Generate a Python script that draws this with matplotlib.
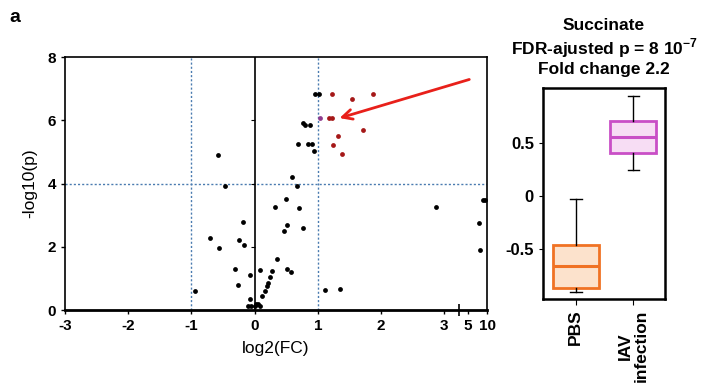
import numpy as np
import matplotlib
matplotlib.use("Agg")
import matplotlib.pyplot as plt

plt.rcParams['font.family'] = ['Liberation Sans', 'DejaVu Sans']
plt.rcParams['mathtext.fontset'] = 'custom'
plt.rcParams['mathtext.rm'] = 'Liberation Sans'
plt.rcParams['mathtext.bf'] = 'Liberation Sans:bold'

# ---- Volcano data ----
black_x = [-0.58, -0.47, 0.60, 0.67, 0.50, 0.33, 0.70, -0.18, 0.52, 0.76, 0.46,
           -0.70, -0.24, -0.16, -0.56, 0.35, -0.31, 0.09, 0.51, 0.57, -0.07,
           0.27, 0.25, 0.22, 0.19, 0.16, 0.11, -0.26, -0.95, 1.12, 1.35, -0.08,
           -0.10, -0.05, 0.02, 0.05, 0.08, 0.00,
           0.76, 0.80, 0.88, 0.69, 0.84, 0.91, 0.94, 0.95, 1.02,
           2.87, 8.9, 9.4, 7.9, 8.2]
black_y = [4.90, 3.92, 4.20, 3.92, 3.52, 3.27, 3.22, 2.78, 2.68, 2.61, 2.49,
           2.27, 2.23, 2.07, 1.95, 1.63, 1.31, 1.27, 1.31, 1.19, 1.10,
           1.23, 1.05, 0.87, 0.77, 0.61, 0.45, 0.80, 0.61, 0.63, 0.67, 0.35,
           0.13, 0.13, 0.18, 0.20, 0.12, 0.14,
           5.93, 5.86, 5.86, 5.25, 5.25, 5.25, 5.03, 6.84, 6.84,
           3.25, 3.47, 3.47, 2.74, 1.90]
red_x = [1.23, 1.54, 1.17, 1.22, 1.32, 1.24, 1.38, 1.87, 1.71]
red_y = [6.84, 6.68, 6.06, 6.06, 5.51, 5.22, 4.93, 6.84, 5.71]
succ_x = [1.03]
succ_y = [6.09]

x_ticks = [-3, -2, -1, 0, 1, 2, 3, 5, 10]
y_ticks = [0, 2, 4, 6, 8]
fc_thresh = [-1, 1]
p_thresh = 4

# broken x axis: linear up to 3, compressed beyond
brk_data = [-3, 3, 5, 10]
brk_pos = [-3, 3, 3.37, 3.68]

def fwd(x):
    return np.interp(x, brk_data, brk_pos)

def inv(x):
    return np.interp(x, brk_pos, brk_data)

# ---- Box data ----
groups = ['PBS', 'IAV\ninfection']
whislo = [-0.90, 0.245]
q1 = [-0.86, 0.40]
med = [-0.66, 0.554]
q3 = [-0.456, 0.70]
whishi = [-0.03, 0.937]
edge_cols = ['#F07224', '#C94FC6']
fill_cols = ['#FCE2CC', '#F7DDF4']

fig = plt.figure(figsize=(7.06, 3.89), dpi=100)

ax = fig.add_axes([0.092, 0.203, 0.598, 0.650])
ax.set_xscale('function', functions=(fwd, inv))
ax.set_xlim(-3, 10)
ax.set_ylim(0, 8)
for v in fc_thresh:
    ax.axvline(v, color='#4A7BB0', lw=1.0, ls=(0, (1.5, 1.5)), zorder=1)
ax.axhline(p_thresh, color='#4A7BB0', lw=1.0, ls=(0, (1.5, 1.5)), zorder=1)
ax.plot([0, 0], [0, 8], color='black', lw=1.2, zorder=2)
ax.plot([0, 0, 0], [2, 4, 6], ls='none', marker=0, color='black', ms=3, mew=0.8, zorder=2)

ax.scatter(black_x, black_y, s=12, color='black', zorder=3, linewidths=0)
ax.scatter(red_x, red_y, s=12, color='#A51818', zorder=3, linewidths=0)
ax.scatter(succ_x, succ_y, s=12, color='#8E3C8E', zorder=3, linewidths=0)

ax.annotate('', xy=(0.644, 0.756), xytext=(0.964, 0.915),
            xycoords='axes fraction', textcoords='axes fraction',
            arrowprops=dict(arrowstyle='->,head_length=0.7,head_width=0.35',
                            color='#E8201A', lw=2))

ax.set_xticks(x_ticks)
ax.set_xticklabels([str(t) for t in x_ticks], fontweight='bold')
ax.set_xticks([4.3], minor=True)
ax.tick_params(axis='x', which='minor', direction='inout', length=8, width=1.2)
ax.set_yticks(y_ticks)
ax.set_yticklabels([str(t) for t in y_ticks], fontweight='bold')
ax.tick_params(axis='both', which='major', labelsize=11, direction='out', length=3, width=1, color='black')
for s in ax.spines.values():
    s.set_linewidth(1.2)
ax.spines['bottom'].set_linewidth(2)
ax.set_xlabel('log2(FC)', fontsize=12.5, labelpad=6)
ax.set_ylabel('-log10(p)', fontsize=12.5, labelpad=7)

fig.text(0.013, 0.955, 'a', fontsize=14, fontweight='bold', va='center')

# ---- Box plot ----
bx = fig.add_axes([0.769, 0.231, 0.173, 0.542])
stats = []
for i in range(len(groups)):
    stats.append(dict(med=med[i], q1=q1[i], q3=q3[i], whislo=whislo[i], whishi=whishi[i], fliers=[]))
res = bx.bxp(stats, positions=[1, 2], widths=0.8, patch_artist=True, showfliers=False,
             capwidths=0.2)
for i, b in enumerate(res['boxes']):
    b.set_facecolor(fill_cols[i])
    b.set_edgecolor(edge_cols[i])
    b.set_linewidth(2)
for i, m in enumerate(res['medians']):
    m.set_color(edge_cols[i])
    m.set_linewidth(2.2)
for w in res['whiskers']:
    w.set_color('black'); w.set_linewidth(1)
for c in res['caps']:
    c.set_color('black'); c.set_linewidth(1)
bx.set_xlim(0.43, 2.55)
bx.set_ylim(-0.967, 1.01)
bx.set_yticks([0.5, 0, -0.5])
bx.set_yticklabels(['0.5', '0', '-0.5'], fontweight='bold')
bx.set_xticks([1, 2])
bx.set_xticklabels(groups, rotation=90, fontweight='bold', fontsize=12.5, linespacing=1.0)
bx.tick_params(axis='y', labelsize=12, length=3)
bx.tick_params(axis='x', length=4)
for s in bx.spines.values():
    s.set_linewidth(1.8)
bx.set_title('Succinate\nFDR-ajusted p = 8 10$^{\\mathbf{-7}}$\nFold change 2.2',
             fontsize=12.5, fontweight='bold', linespacing=1.2, pad=10)

fig.savefig('out.png', dpi=100)
